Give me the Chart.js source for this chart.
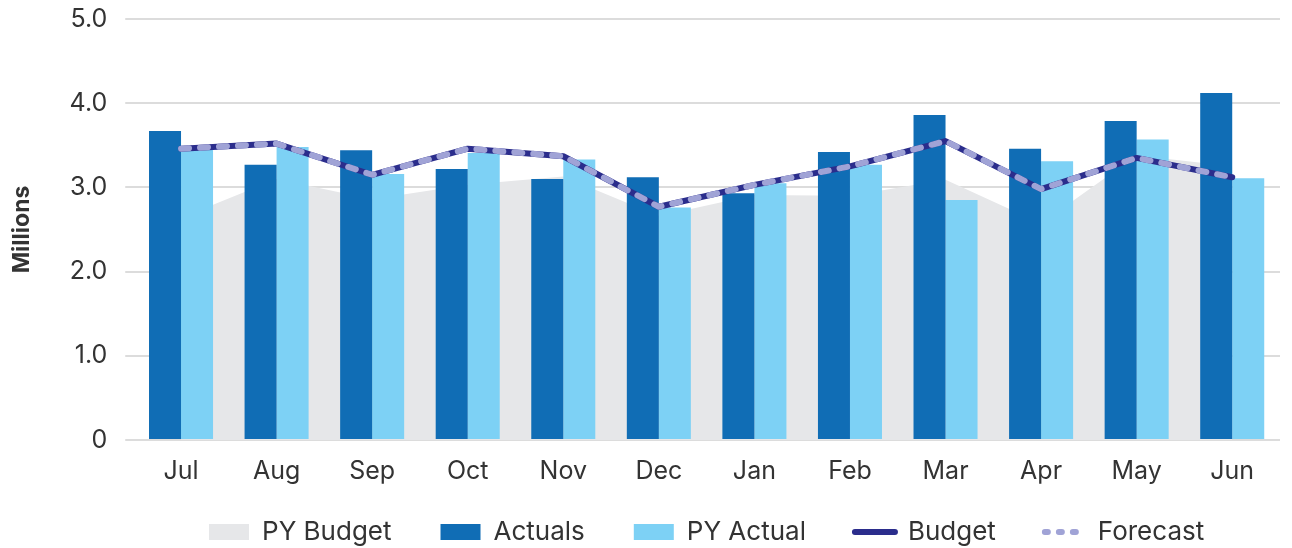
<!DOCTYPE html>
<html><head><meta charset="utf-8">
<script src="https://cdn.jsdelivr.net/npm/chart.js@4/dist/chart.umd.min.js"></script>
<style>html,body{margin:0;padding:0;background:#fff}#wrap{width:1292px;height:548px;position:relative}</style>
</head><body><div id="wrap"><canvas id="c" width="1292" height="548"></canvas></div>
<script>
const months = ['Jul','Aug','Sep','Oct','Nov','Dec','Jan','Feb','Mar','Apr','May','Jun'];
const pyBudget = [2.64,3.10,2.86,3.03,3.13,2.66,2.91,2.90,3.09,2.57,3.38,3.25];
const actuals  = [3.67,3.27,3.44,3.22,3.10,3.12,2.93,3.42,3.86,3.46,3.79,4.12];
const pyActual = [3.46,3.48,3.16,3.41,3.33,2.76,3.05,3.27,2.85,3.31,3.57,3.11];
const budget   = [3.46,3.52,3.15,3.46,3.37,2.77,3.03,3.25,3.55,2.98,3.35,3.12];
const forecast = [3.46,3.52,3.15,3.46,3.37,2.77,3.03,3.25,3.55,2.98,3.35,3.12];
const yMin = 0, yMax = 5, yStep = 1;

const FONT = 'Inter';
const TXT = '#333333';
const C_PYB = '#e6e7e9', C_ACT = '#106db5', C_PYA = '#7dd1f5', C_BUD = '#2b2d8c', C_FC = '#a0a3d6';

// Legend placement: reserve a fixed band at the bottom and set where the row is drawn.
const LEGEND_RESERVE = 46;
const LEGEND_ITEM_TOP = 519;
const legendPlace = {
  id: 'legendPlace',
  afterInit(chart) {
    const lg = chart.legend;
    const orig = lg.fit.bind(lg);
    lg.fit = function () { orig(); this.height = LEGEND_RESERVE; };
  },
  afterLayout(chart) {
    const lg = chart.legend;
    const pad = lg.options.labels.padding;
    lg.top = LEGEND_ITEM_TOP - pad;
    lg.bottom = chart.height;
    lg.height = lg.bottom - lg.top;
  }
};

new Chart(document.getElementById('c'), {
  data: {
    labels: months,
    datasets: [
      {type:'line', label:'PY Budget', data:pyBudget, fill:'origin', backgroundColor:C_PYB, borderWidth:0, pointRadius:0, tension:0, order:5},
      {type:'bar', label:'Actuals', data:actuals, backgroundColor:C_ACT, categoryPercentage:0.67, barPercentage:1.0, order:3},
      {type:'bar', label:'PY Actual', data:pyActual, backgroundColor:C_PYA, categoryPercentage:0.67, barPercentage:1.0, order:3},
      {type:'line', label:'Budget', data:budget, borderColor:C_BUD, borderWidth:6, pointRadius:0, fill:false, tension:0, borderJoinStyle:'round', borderCapStyle:'round', order:2},
      {type:'line', label:'Forecast', data:forecast, borderColor:C_FC, borderWidth:6, borderDash:[8,11], borderCapStyle:'round', borderJoinStyle:'round', pointRadius:0, fill:false, tension:0, order:1}
    ]
  },
  plugins:[legendPlace],
  options: {
    responsive:false, devicePixelRatio:1, animation:false,
    layout:{padding:{top:0,right:12,left:0,bottom:0}},
    scales:{
      x:{grid:{display:false, drawTicks:false}, border:{display:false},
         ticks:{color:TXT, font:{family:FONT,size:25}, padding:16}},
      y:{min:yMin, max:yMax, border:{display:false},
         grid:{color:'#dcdcdc', lineWidth:2, tickLength:8},
         ticks:{stepSize:yStep, color:TXT, font:{family:FONT,size:25}, padding:18,
                callback:(v)=> v===0 ? '0' : v.toFixed(1)},
         title:{display:true, text:'Millions', color:TXT, font:{family:FONT,size:23,weight:'bold'}, padding:{top:8,bottom:16}},
         afterFit:(s)=>{ s.paddingTop = 19; }}
    },
    plugins:{
      tooltip:{enabled:false},
      legend:{position:'bottom', fullSize:false,
        labels:{usePointStyle:true, pointStyleWidth:40, boxHeight:16, padding:49, color:TXT, font:{family:FONT,size:26},
          generateLabels:(chart)=>chart.data.datasets.map((ds,i)=>{
            const isLine = ds.type==='line' && ds.label!=='PY Budget';
            return {
              text: ds.label, datasetIndex:i, fontColor:TXT,
              fillStyle: isLine ? 'rgba(0,0,0,0)' : ds.backgroundColor,
              strokeStyle: isLine ? ds.borderColor : 'rgba(0,0,0,0)',
              lineWidth: isLine ? 6 : 0,
              lineCap: 'round',
              lineDash: ds.label==='Forecast' ? [3,11] : [],
              pointStyle: isLine ? 'line' : 'rect',
              hidden:false
            };
          })
        }
      }
    }
  }
});
</script></body></html>
